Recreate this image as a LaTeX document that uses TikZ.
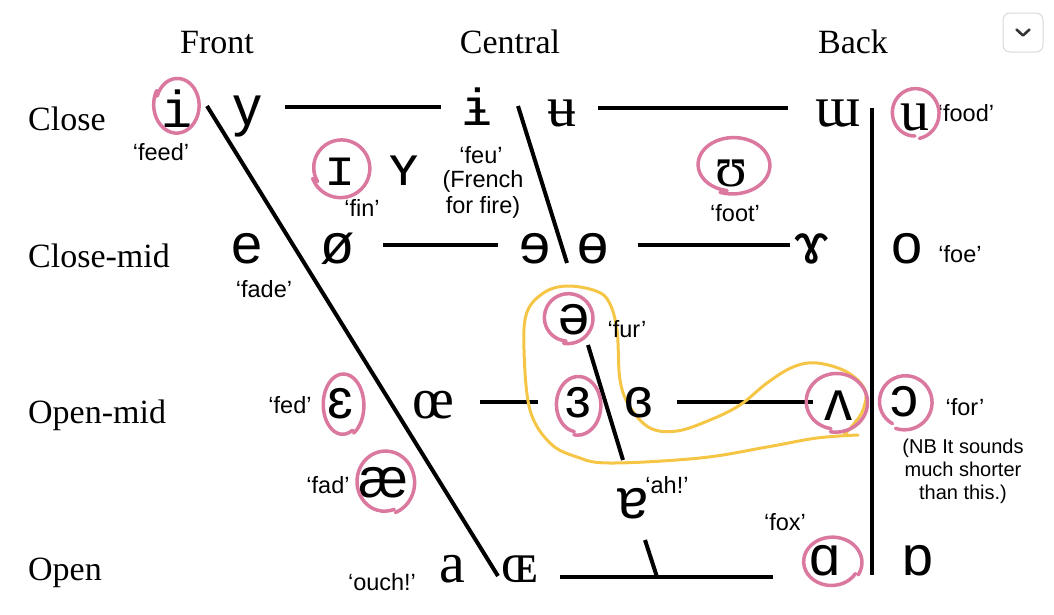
\documentclass[tikz,border=0pt]{standalone}
\usepackage{fontspec}
\setmainfont{Liberation Serif}
\newfontfamily\labfont{Liberation Sans}
\newfontfamily\ipasans{Liberation Sans}
\newfontfamily\iparom{Liberation Serif}
\newfontfamily\ipamono{Liberation Mono}
\definecolor{pinkc}{RGB}{219,120,160}
\definecolor{yell}{RGB}{245,198,70}
\newcommand\pring[6]{%
  \draw[ring] plot[smooth, domain=#5:#6, samples=40, variable=\t]
    ({#1+#3*(1+0.12*(\t-#5)/(#6-#5))*cos(\t)}, {#2+#4*(1+0.12*(\t-#5)/(#6-#5))*sin(\t)});}
\begin{document}
\begin{tikzpicture}[x=1pt,y=-1pt,
  hdr/.style={font=\fontsize{34}{34}\selectfont, anchor=base, inner sep=0},
  rowlab/.style={font=\fontsize{34}{34}\selectfont, anchor=base west, inner sep=0},
  sym/.style={font=\ipasans\fontsize{56}{56}\selectfont, anchor=base, inner sep=0},
  symr/.style={font=\iparom\fontsize{58}{58}\selectfont, anchor=base, inner sep=0},
  symm/.style={font=\ipamono\fontsize{52}{52}\selectfont, anchor=base, inner sep=0},
  gloss/.style={font=\labfont\fontsize{23.5}{23.5}\selectfont, anchor=base, inner sep=0},
  note/.style={font=\labfont\fontsize{20}{20}\selectfont, anchor=base, inner sep=0},
  bar/.style={line width=4pt},
  ring/.style={draw=pinkc, line width=3.5pt, line cap=round, line join=round},
  loopline/.style={draw=yell, line width=3pt, line cap=round, line join=round}]
\useasboundingbox (0,0) rectangle (1054,614);

% headers
\node[hdr] (hfront) at (217,53) {Front};
\node[hdr] (hcentral) at (510,53) {Central};
\node[hdr] (hback) at (853,53) {Back};
% row labels
\node[rowlab] (rclose) at (28,130) {Close};
\node[rowlab] (rclosemid) at (28,267) {Close-mid};
\node[rowlab] (ropenmid) at (28,423) {Open-mid};
\node[rowlab] (ropen) at (28,580) {Open};

% chart lines
\coordinate (fd1) at (207,106); \coordinate (fd2) at (498,576);
\coordinate (cd1) at (518,106); \coordinate (cd2) at (567,263);
\coordinate (bv1) at (872,108); \coordinate (bv2) at (872,575);
\coordinate (c1a) at (285,107); \coordinate (c1b) at (441,107);
\coordinate (c2a) at (598,108); \coordinate (c2b) at (788,108);
\coordinate (m1a) at (383,245); \coordinate (m1b) at (498,245);
\coordinate (m2a) at (638,245); \coordinate (m2b) at (790,245);
\coordinate (o1a) at (480,402); \coordinate (o1b) at (538,402);
\coordinate (o2a) at (677,402); \coordinate (o2b) at (813,402);
\coordinate (p1a) at (560,577); \coordinate (p1b) at (773,577);
\coordinate (tk1) at (645,540); \coordinate (tk2) at (657,577);
\coordinate (sc1) at (588,345); \coordinate (sc2) at (623,460);
\draw[bar] (fd1) -- (fd2);
\draw[bar] (cd1) -- (cd2);
\draw[bar] (bv1) -- (bv2);
\draw[bar] (c1a) -- (c1b);
\draw[bar] (c2a) -- (c2b);
\draw[bar] (m1a) -- (m1b);
\draw[bar] (m2a) -- (m2b);
\draw[bar] (o1a) -- (o1b);
\draw[bar] (o2a) -- (o2b);
\draw[bar] (p1a) -- (p1b);
\draw[bar] (tk1) -- (tk2);
\draw[bar] (sc1) -- (sc2);

% yellow loop
\draw[loopline] plot[smooth, tension=0.6] coordinates {(858,435) (817,438) (767,447) (700,458) (610,463) (577,457) (550,443) (530,410) (524,350) (527,312) (545,292) (568,286) (596,291) (609,302) (617,330) (620,380) (630,407) (650,428) (677,431) (710,420) (740,405) (767,383) (793,367) (817,363) (847,372) (865,390) (863,410) (853,425) (843,436)};

% symbols: close
\node[symm] (si) at (177,127) {i};
\node[sym] (sy) at (247,125) {y};
\node[symm] (sibar) at (477,125) {ɨ};
\node[symr] (subar) at (562,126) {ʉ};
\node[symr] (sturnm) at (838,126) {ɯ};
\node[symr] (su) at (915,130) {u};
\node[symm] (scapi) at (340,185) {ɪ};
\node[sym] (scapy) at (404,185) {ʏ};
\node[symr] (supsilon) at (731,186) {ʊ};
% close-mid
\node[sym] (se) at (247,263) {e};
\node[sym] (soslash) at (338,263) {ø};
\node[sym] (srevE) at (535,263) {ɘ};
\node[sym] (sbarO) at (593,263) {ɵ};
\node[sym] (sramshorn) at (812,263) {ɤ};
\node[sym] (so) at (907,263) {o};
\node[sym] (sschwa) at (574,334) {ə};
% open-mid
\node[sym] (seps) at (340,418) {ɛ};
\node[symr] (soe) at (433,418) {œ};
\node[sym] (srevEps) at (578,417) {ɜ};
\node[sym] (sclosedRevEps) at (639,417) {ɞ};
\node[sym] (swedge) at (838,420) {ʌ};
\node[sym] (sopenO) at (904,416) {ɔ};
\node[sym] (sae) at (383,497) {æ};
\node[sym] (sturna) at (633,518) {ɐ};
% open
\node[symr] (sa) at (452,582) {a};
\node[symr] (scapOE) at (520,582) {ɶ};
\node[sym] (salpha) at (825,575) {ɑ};
\node[sym] (sturnalpha) at (918,575) {ɒ};

% glosses
\node[gloss] (gfeed) at (161,160) {‘feed’};
\node[gloss] (gfood) at (966,121) {‘food’};
\node[gloss] (gfin) at (362,216) {‘fin’};
\node[gloss] (gfeu) at (481,163) {‘feu’};
\node[gloss] (gfrench) at (483,187) {(French};
\node[gloss] (gfire) at (483,213) {for fire)};
\node[gloss] (gfoot) at (735,221) {‘foot’};
\node[gloss] (gfoe) at (960,262) {‘foe’};
\node[gloss] (gfade) at (264,297) {‘fade’};
\node[gloss] (gfur) at (627,337) {‘fur’};
\node[gloss] (gfed) at (290,413) {‘fed’};
\node[gloss] (gfor) at (965,415) {‘for’};
\node[note] (nb1) at (963,453) {(NB It sounds};
\node[note] (nb2) at (963,476) {much shorter};
\node[note] (nb3) at (963,499) {than this.)};
\node[gloss] (gfad) at (328,493) {‘fad’};
\node[gloss] (gah) at (667,493) {‘ah!’};
\node[gloss] (gfox) at (785,530) {‘fox’};
\node[gloss] (gouch) at (382,590) {‘ouch!’};

% pink rings
\pring{177}{105}{21}{26}{200}{570}
\pring{341}{168}{27}{27}{150}{520}
\pring{733}{165}{34}{26}{100}{470}
\pring{915}{113}{22}{23}{90}{440}
\pring{568}{318}{23}{23}{95}{460}
\pring{578}{405}{21}{27}{100}{460}
\pring{836}{402}{29}{27}{100}{460}
\pring{905}{402}{25}{25}{120}{470}
\pring{343}{405}{19}{29}{60}{420}
\pring{385}{482}{27}{29}{70}{430}
\pring{832}{562}{27}{23}{30}{390}

% UI button
\node[draw=black!15, fill=white, rounded corners=7pt, minimum width=40pt, minimum height=39pt, inner sep=0, line width=1pt] (btn) at (1023,32.5) {};
\draw[line width=2.6pt, black!80, line cap=round, line join=round] ([xshift=-6.5pt,yshift=3pt]btn.center) -- ([yshift=-3pt]btn.center) -- ([xshift=6.5pt,yshift=3pt]btn.center);
\end{tikzpicture}
\end{document}
